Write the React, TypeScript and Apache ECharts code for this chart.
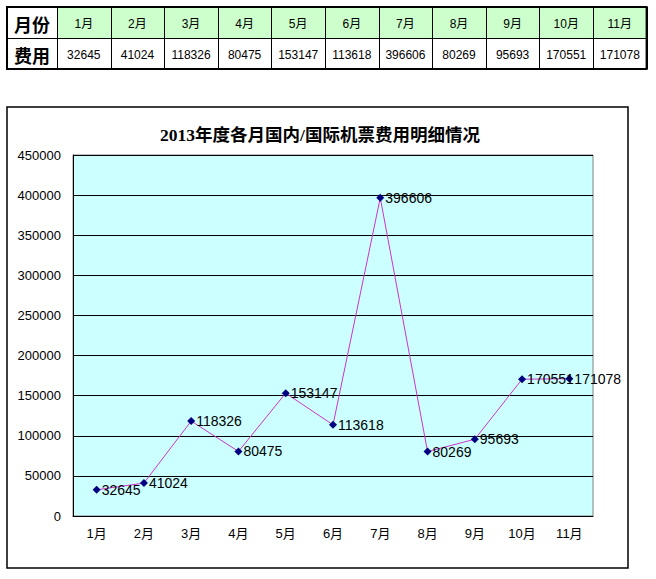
import React, { useEffect, useRef } from "react";
import * as echarts from "echarts";

const months = ["1月", "2月", "3月", "4月", "5月", "6月", "7月", "8月", "9月", "10月", "11月"];
const costs = [32645, 41024, 118326, 80475, 153147, 113618, 396606, 80269, 95693, 170551, 171078];
const rowHeaders = ["月份", "费用"];
const title = "2013年度各月国内/国际机票费用明细情况";
const yMax = 450000;
const yStep = 50000;

export default function App() {
  const ref = useRef<HTMLDivElement>(null);
  useEffect(() => {
    if (!ref.current) return;
    const chart = echarts.init(ref.current, null, { renderer: "svg" });

    const tx = 7, ty = 7, rh = 31, hw = 50, cw = 53.6;
    const tw = hw + cw * months.length;
    const graphics: any[] = [];
    graphics.push({
      type: "rect",
      shape: { x: tx + hw, y: ty, width: cw * months.length, height: rh },
      style: { fill: "#CCFFCC" },
    });
    for (let i = 0; i <= months.length; i++) {
      const x = Math.round(tx + hw + cw * i) + 0.5;
      graphics.push({
        type: "line",
        shape: { x1: x, y1: ty, x2: x, y2: ty + rh * 2 },
        style: { stroke: "#000", lineWidth: 1 },
      });
    }
    graphics.push({
      type: "line",
      shape: { x1: tx, y1: ty + rh + 0.5, x2: tx + tw, y2: ty + rh + 0.5 },
      style: { stroke: "#000", lineWidth: 1 },
    });
    graphics.push({
      type: "rect",
      shape: { x: tx, y: ty, width: tw, height: rh * 2 },
      style: { fill: "none", stroke: "#000", lineWidth: 2 },
    });
    rowHeaders.forEach((h, r) => {
      graphics.push({
        type: "text",
        x: tx + hw / 2,
        y: ty + rh * r + rh / 2 + 1,
        style: {
          text: h,
          fill: "#000",
          font: "bold 18px 'Noto Sans CJK SC'",
          align: "center",
          verticalAlign: "middle",
        },
      });
    });
    months.forEach((m, i) => {
      const cx = tx + hw + cw * i + cw / 2;
      graphics.push({
        type: "text",
        x: cx,
        y: ty + rh / 2 + 1,
        style: {
          text: m,
          fill: "#000",
          font: "12px 'Liberation Sans', 'Noto Sans CJK SC'",
          align: "center",
          verticalAlign: "middle",
        },
      });
      graphics.push({
        type: "text",
        x: cx,
        y: ty + rh + rh / 2 + 1,
        style: {
          text: String(costs[i]),
          fill: "#000",
          font: "12px 'Liberation Sans'",
          align: "center",
          verticalAlign: "middle",
        },
      });
    });
    graphics.push({
      type: "rect",
      shape: { x: 7, y: 107, width: 621, height: 461 },
      style: { fill: "none", stroke: "#000", lineWidth: 1.5 },
      z: 10,
    });

    chart.setOption({
      animation: false,
      backgroundColor: "#fff",
      title: {
        text: title,
        left: 315,
        top: 121,
        textAlign: "center",
        textStyle: {
          fontFamily: "'Liberation Serif', 'Noto Sans CJK SC'",
          fontWeight: "bold",
          fontSize: 17.5,
          color: "#000",
        },
      },
      grid: {
        left: 73,
        right: 63,
        top: 155,
        bottom: 63,
        show: true,
        backgroundColor: "#CCFFFF",
        borderColor: "#808080",
        borderWidth: 1,
      },
      xAxis: {
        type: "category",
        data: months,
        boundaryGap: true,
        axisLine: { lineStyle: { color: "#000", width: 1 } },
        axisTick: { inside: true, length: 5, lineStyle: { color: "#000" } },
        axisLabel: {
          margin: 11,
          color: "#000",
          fontSize: 13,
          fontFamily: "'Liberation Sans', 'Noto Sans CJK SC'",
        },
      },
      yAxis: {
        type: "value",
        min: 0,
        max: yMax,
        interval: yStep,
        axisLine: { show: true, lineStyle: { color: "#000", width: 1 } },
        axisTick: { show: false },
        splitLine: { lineStyle: { color: "#000", width: 1 } },
        axisLabel: {
          margin: 12,
          color: "#000",
          fontSize: 13,
          fontFamily: "'Liberation Sans'",
          formatter: (v: number) => String(v),
        },
      },
      series: [
        {
          type: "line",
          data: costs,
          symbol: "diamond",
          symbolSize: 8,
          itemStyle: { color: "#000080" },
          lineStyle: { color: "#CC33CC", width: 1 },
          label: {
            show: true,
            position: "right",
            distance: 1,
            color: "#000",
            fontSize: 14,
            fontFamily: "'Liberation Sans', Arial",
          },
        },
      ],
      graphic: graphics,
    });
    return () => chart.dispose();
  }, []);
  return (
    <div
      ref={ref}
      style={{ position: "fixed", left: 0, top: 0, width: 656, height: 579 }}
    />
  );
}
